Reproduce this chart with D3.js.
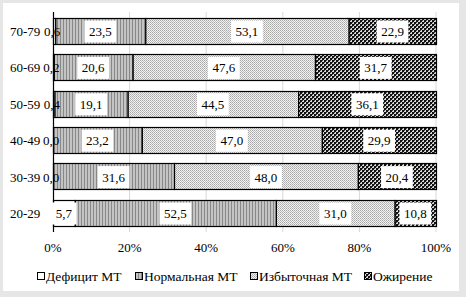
<!DOCTYPE html>
<html><head><meta charset="utf-8">
<script src="https://cdn.jsdelivr.net/npm/d3@7"></script>
<style>
html,body{margin:0;padding:0;background:#e6e6e6;}
svg{display:block;}
</style></head>
<body>
<svg id="chart" width="466" height="297"></svg>
<script>
const categories = ["70-79","60-69","50-59","40-49","30-39","20-29"];
const seriesNames = ["Дефицит МТ","Нормальная МТ","Избыточная МТ","Ожирение"];
const deficit = [0.6, 0.2, 0.4, 0.0, 0.0, 5.7];
const normal  = [23.5, 20.6, 19.1, 23.2, 31.6, 52.5];
const excess  = [53.1, 47.6, 44.5, 47.0, 48.0, 31.0];
const obesity = [22.9, 31.7, 36.1, 29.9, 20.4, 10.8];
const xTicks = [0, 20, 40, 60, 80, 100];

const FONT = '"Liberation Serif"';
const svg = d3.select("#chart");

svg.append("rect").attr("x",3).attr("y",3).attr("width",456).attr("height",288).attr("fill","#fff");

const defs = svg.append("defs");
const pNormal = defs.append("pattern").attr("id","pNormal").attr("patternUnits","userSpaceOnUse").attr("width",3).attr("height",3);
pNormal.append("rect").attr("width",3).attr("height",3).attr("fill","#c4c4c4");
pNormal.append("rect").attr("width",1).attr("height",3).attr("fill","#888");
const pExcess = defs.append("pattern").attr("id","pExcess").attr("patternUnits","userSpaceOnUse").attr("width",2).attr("height",2);
pExcess.append("rect").attr("width",2).attr("height",2).attr("fill","#f2f2f2");
pExcess.append("rect").attr("width",1).attr("height",1).attr("fill","#a8a8a8");
pExcess.append("rect").attr("x",1).attr("y",1).attr("width",1).attr("height",1).attr("fill","#bcbcbc");
const pObes = defs.append("pattern").attr("id","pObes").attr("patternUnits","userSpaceOnUse").attr("width",4).attr("height",4);
pObes.append("rect").attr("width",4).attr("height",4).attr("fill","#d8d8d8");
pObes.append("rect").attr("width",2).attr("height",2).attr("fill","#111");
pObes.append("rect").attr("x",2).attr("y",2).attr("width",2).attr("height",2).attr("fill","#111");
pObes.append("rect").attr("x",2).attr("y",0).attr("width",1).attr("height",1).attr("fill","#444");
pObes.append("rect").attr("x",0).attr("y",2).attr("width",1).attr("height",1).attr("fill","#444");

const fills = ["#ffffff","url(#pNormal)","url(#pExcess)","url(#pObes)"];

const x = d3.scaleLinear().domain([0,100]).range([53,436]);
const y = d3.scaleBand().domain(categories).range([12.8,231.2]).paddingInner(0.28).paddingOuter(0.14);

svg.append("g").selectAll("line").data(xTicks.slice(1)).join("line")
  .attr("x1",d=>x(d)).attr("x2",d=>x(d)).attr("y1",12).attr("y2",232)
  .attr("stroke","#d9d9d9").attr("stroke-width",1);

const rows = categories.map((c,i)=>({cat:c, vals:[deficit[i],normal[i],excess[i],obesity[i]]}));
const stack = [];
rows.forEach(r=>{
  let acc=0;
  r.vals.forEach((v,k)=>{ stack.push({cat:r.cat,k,v,x0:acc,x1:acc+v}); acc+=v; });
});

svg.append("g").selectAll("rect").data(stack).join("rect")
  .attr("x",d=>x(d.x0)+0.5).attr("y",d=>Math.round(y(d.cat))+0.5)
  .attr("width",d=>Math.max(0,x(Math.min(d.x1,100))-x(d.x0)))
  .attr("height",Math.round(y.bandwidth()))
  .attr("fill",d=>fills[d.k]).attr("stroke","#000").attr("stroke-width",1.2);

svg.append("line").attr("x1",x(0)+0.5).attr("x2",x(0)+0.5).attr("y1",12).attr("y2",232).attr("stroke","#000").attr("stroke-width",1.2);

const fmt = v => v.toFixed(1).replace(".",",");
const lab = svg.append("g");
stack.forEach(d=>{
  const cx = x((d.x0+d.x1)/2);
  const cy = y(d.cat)+y.bandwidth()/2 + 0.5;
  const t = fmt(d.v);
  const bg = lab.append("rect");
  const tx = lab.append("text").attr("x",cx+(d.v<1?-2:0)).attr("y",cy).attr("dy","0.35em").attr("text-anchor","middle")
    .style("font-family",FONT).style("font-size","13px").attr("fill","#000").text(t);
  if (d.v >= 1) {
    const w = tx.node().getComputedTextLength()+9;
    bg.attr("x",cx-w/2).attr("y",cy-11).attr("width",w).attr("height",22).attr("fill","#fff");
  } else bg.remove();
});

svg.append("g").selectAll("text").data(categories).join("text")
  .attr("x",10).attr("y",d=>y(d)+y.bandwidth()/2+0.5).attr("dy","0.35em")
  .style("font-family",FONT).style("font-size","13px").text(d=>d);

svg.append("g").selectAll("text").data(xTicks).join("text")
  .attr("x",d=>x(d)).attr("y",247).attr("dy","0.35em").attr("text-anchor","middle")
  .style("font-family",FONT).style("font-size","13px").text(d=>d+"%");

const legX = [37, 135, 250, 364];
const leg = svg.append("g");
seriesNames.forEach((n,i)=>{
  leg.append("rect").attr("x",legX[i]+0.5).attr("y",272.5).attr("width",7).attr("height",7).attr("fill",fills[i]).attr("stroke","#000").attr("stroke-width",1);
  leg.append("text").attr("x",legX[i]+9).attr("y",276).attr("dy","0.35em")
    .style("font-family",FONT).style("font-size","13.5px").text(n);
});
</script>
</body></html>
